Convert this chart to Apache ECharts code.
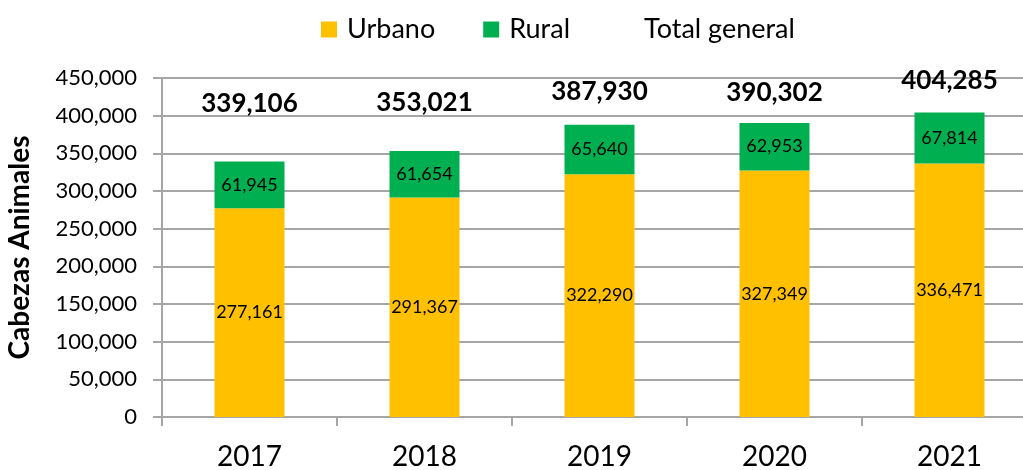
<!DOCTYPE html>
<html>
<head>
<meta charset="utf-8">
<script src="https://cdn.jsdelivr.net/npm/echarts@6/dist/echarts.min.js"></script>
<style>
	html, body { margin: 0; padding: 0; background: #fff; }
	#cabezas { width: 1023px; height: 470px; }
</style>
</head>
<body>
<div id="cabezas"></div>
<script>
"use strict";

/*****Data start*****/
var years = ["2017", "2018", "2019", "2020", "2021"];
var urbano = [277161, 291367, 322290, 327349, 336471];
var rural = [61945, 61654, 65640, 62953, 67814];
var totalGeneral = [339106, 353021, 387930, 390302, 404285];
var yTicks = [0, 50000, 100000, 150000, 200000, 250000, 300000, 350000, 400000, 450000];
/*****Data end*****/

// label nudges for the total row, as placed in the original
var totalLabelShift = [-58, -48, -33, -30, -32];

var fmt = function (v) { return Number(v).toLocaleString('en-US'); };
var font = "Lato, 'Open Sans', sans-serif";
var gridGray = '#a6a6a6';

var chart = echarts.init(document.getElementById('cabezas'));
var option = {
	animation: false,
	textStyle: { fontFamily: font, color: '#000' },
	legend: {
		left: 321,
		top: 16,
		padding: 0,
		itemWidth: 16,
		itemHeight: 16,
		itemGap: 48,
		icon: 'rect',
		textStyle: { fontFamily: font, fontSize: 27, color: '#000', padding: [0, 0, 0, 5] },
		data: [
			'Urbano',
			'Rural',
			{ name: 'Total general', itemStyle: { opacity: 0 } }
		]
	},
	grid: {
		left: 162,
		top: 78,
		width: 875,
		height: 339,
		containLabel: false,
		outerBoundsMode: 'none'
	},
	xAxis: {
		type: 'category',
		data: years,
		axisLine: { lineStyle: { color: gridGray, width: 2 } },
		axisTick: { show: true, length: 9, lineStyle: { color: gridGray, width: 2 } },
		axisLabel: { color: '#000', fontFamily: font, fontSize: 28, margin: 26 }
	},
	yAxis: {
		type: 'value',
		min: yTicks[0],
		max: yTicks[yTicks.length - 1],
		interval: yTicks[1] - yTicks[0],
		name: 'Cabezas Animales',
		nameLocation: 'middle',
		nameGap: 128,
		nameTextStyle: { fontFamily: font, fontSize: 28, fontWeight: 'bold', color: '#000' },
		axisLine: { show: true, lineStyle: { color: gridGray, width: 2 } },
		axisTick: { show: true, length: 9, lineStyle: { color: gridGray, width: 2 } },
		axisLabel: { color: '#000', fontFamily: font, fontSize: 22, margin: 25, formatter: fmt },
		splitLine: { show: true, lineStyle: { color: gridGray, width: 2 } }
	},
	series: [
		{
			name: 'Urbano',
			type: 'bar',
			stack: 'total',
			barWidth: 70,
			itemStyle: { color: '#FFC000' },
			label: {
				show: true,
				position: 'inside',
				color: '#000',
				fontFamily: font,
				fontSize: 18,
				formatter: function (p) { return fmt(p.value); }
			},
			data: urbano
		},
		{
			name: 'Rural',
			type: 'bar',
			stack: 'total',
			barWidth: 70,
			itemStyle: { color: '#00B050' },
			label: {
				show: true,
				position: 'inside',
				color: '#000',
				fontFamily: font,
				fontSize: 18,
				formatter: function (p) { return fmt(p.value); }
			},
			data: rural
		},
		{
			name: 'Total general',
			type: 'line',
			symbol: 'circle',
			symbolSize: 1,
			itemStyle: { color: 'transparent' },
			lineStyle: { opacity: 0 },
			label: {
				show: true,
				position: 'inside',
				color: '#000',
				fontFamily: font,
				fontSize: 26,
				fontWeight: 'bold',
				formatter: function (p) { return fmt(p.value); }
			},
			data: totalGeneral.map(function (v, i) {
				return { value: v, label: { offset: [0, totalLabelShift[i]] } };
			})
		}
	]
};
chart.setOption(option);
</script>
</body>
</html>
